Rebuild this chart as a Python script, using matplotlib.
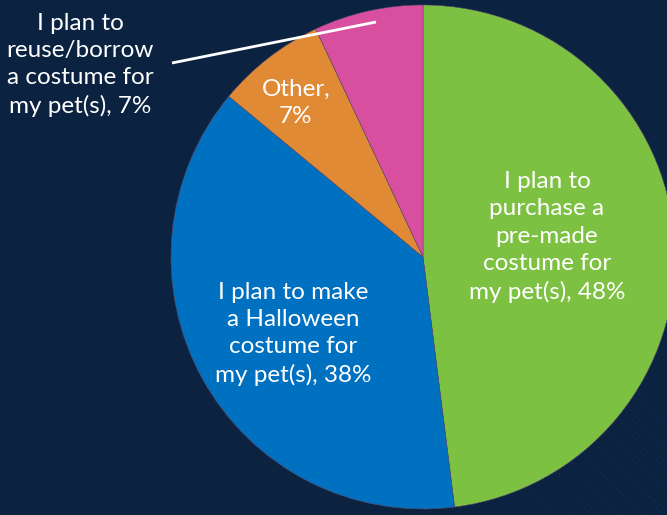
import matplotlib
matplotlib.use("Agg")
import matplotlib.pyplot as plt
import numpy as np

# Survey responses: Halloween costume plans for pets
categories = [
    "I plan to\npurchase a\npre-made\ncostume for\nmy pet(s),",
    "I plan to make\na Halloween\ncostume for\nmy pet(s),",
    "Other,",
    "I plan to\nreuse/borrow\na costume for\nmy pet(s),",
]
values = [48, 38, 7, 7]
colors = ["#7dc142", "#0070c0", "#e08a35", "#d94f9f"]

BG = "#0b2341"
W, H = 667, 515

plt.rcParams["font.family"] = ["Lato", "DejaVu Sans"]

fig = plt.figure(figsize=(W / 100, H / 100), dpi=100, facecolor=BG)
ax = fig.add_axes([0, 0, 1, 1])
ax.set_facecolor(BG)

cx, cy, r = 423, H - 257, 252

# faint dotted arcs in the lower right corner
for k in range(10):
    rr = 300 + k * 16
    th = np.linspace(np.radians(200), np.radians(250), 70)
    xs = 880 + rr * np.cos(th)
    ys = 300 + rr * np.sin(th)
    ax.scatter(xs, ys, s=1.0, color="#18365c", alpha=0.8, linewidths=0, zorder=0)

wedges, _ = ax.pie(values, colors=colors, startangle=90, counterclock=False,
                   center=(cx, cy), radius=r, frame=True,
                   wedgeprops=dict(edgecolor="#5a4a6a", linewidth=0.4))
ax.set_xlim(0, W)
ax.set_ylim(0, H)
ax.set_aspect("equal")
ax.axis("off")

labels = [f"{c} {v}%" for c, v in zip(categories, values)]
labels[2] = f"{categories[2]}\n{values[2]}%"

txt = dict(color="white", fontsize=17.5, ha="center", va="center",
           linespacing=1.38, fontweight="normal")
ax.text(547, H - 237, labels[0], **txt)
ax.text(293, H - 334, labels[1], **txt)
ax.text(296, H - 103, labels[2], **txt)
ax.text(80, H - 65, labels[3], **txt)

# leader line to the small slice
ax.plot([172, 376], [H - 63, H - 22], color="white", lw=2, solid_capstyle="butt")

fig.savefig("out.png", dpi=100, facecolor=BG)
